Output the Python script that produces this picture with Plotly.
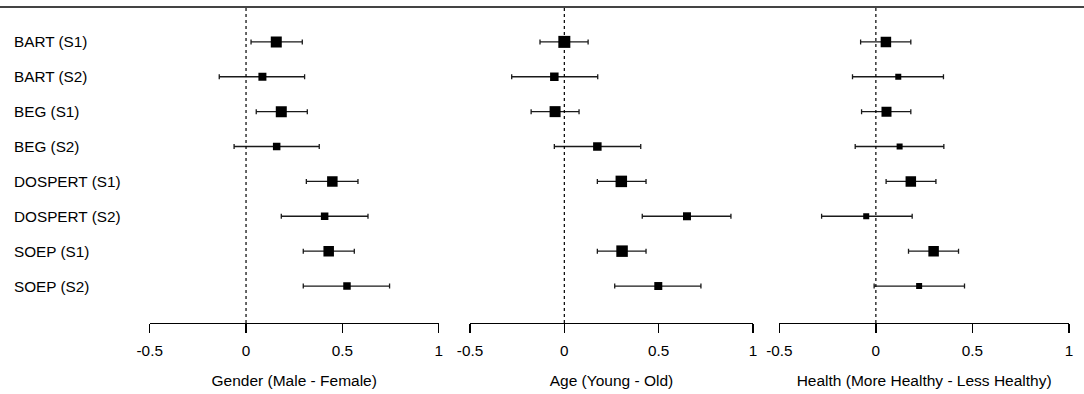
import plotly.graph_objects as go

studies = ["BART (S1)", "BART (S2)", "BEG (S1)", "BEG (S2)",
           "DOSPERT (S1)", "DOSPERT (S2)", "SOEP (S1)", "SOEP (S2)"]

axis_titles = ["Gender (Male - Female)", "Age (Young - Old)",
               "Health (More Healthy - Less Healthy)"]
tick_vals = [-0.5, 0, 0.5, 1]
tick_text = ["-0.5", "0", "0.5", "1"]

gender_est = [0.157, 0.085, 0.183, 0.159, 0.448, 0.408, 0.429, 0.524]
gender_lo = [0.026, -0.139, 0.053, -0.062, 0.313, 0.183, 0.297, 0.297]
gender_hi = [0.292, 0.304, 0.318, 0.380, 0.581, 0.633, 0.562, 0.745]

age_est = [0.000, -0.053, -0.049, 0.175, 0.302, 0.650, 0.306, 0.498]
age_lo = [-0.129, -0.279, -0.176, -0.053, 0.175, 0.413, 0.175, 0.267]
age_hi = [0.126, 0.177, 0.078, 0.405, 0.433, 0.883, 0.433, 0.724]

health_est = [0.052, 0.116, 0.055, 0.123, 0.181, -0.050, 0.299, 0.224]
health_lo = [-0.079, -0.121, -0.074, -0.107, 0.053, -0.281, 0.169, -0.009]
health_hi = [0.181, 0.350, 0.181, 0.352, 0.311, 0.188, 0.428, 0.459]

# marker sizes (style) per panel
sizes = [
    [11, 8, 11, 7.5, 10.5, 7.5, 10.5, 7.5],
    [12, 8.5, 11, 8.5, 11.5, 8, 11.5, 8],
    [10.5, 6, 10, 6, 10.5, 6, 10.5, 6],
]

panels = [(gender_est, gender_lo, gender_hi),
          (age_est, age_lo, age_hi),
          (health_est, health_lo, health_hi)]

W, H = 1084, 394
domains = [(149.7, 438.7), (470.0, 753.0), (779.3, 1069.0)]
FONT = "Liberation Sans, Arial, Helvetica, sans-serif"

fig = go.Figure()
ypos = list(range(len(studies)))
for i, (est, lo, hi) in enumerate(panels):
    xa = "x" if i == 0 else f"x{i+1}"
    fig.add_trace(go.Scatter(
        x=est, y=ypos, mode="markers",
        marker=dict(symbol="square", color="black", size=sizes[i], opacity=1,
                    line=dict(width=0)),
        error_x=dict(type="data", symmetric=False,
                     array=[h - e for h, e in zip(hi, est)],
                     arrayminus=[e - l for e, l in zip(est, lo)],
                     color="#1a1a1a", thickness=1.3, width=2.5),
        xaxis=xa, yaxis="y", showlegend=False, hoverinfo="skip"))

layout = dict(
    template="none",
    width=W, height=H, autosize=False,
    margin=dict(l=0, r=0, t=7, b=71, pad=0, autoexpand=False),
    paper_bgcolor="white", plot_bgcolor="white",
    font=dict(family=FONT, size=15.3, color="black"),
    showlegend=False,
    hovermode=False,
    yaxis=dict(range=[8.06, -1.0], showgrid=False, zeroline=False, automargin=False,
               showticklabels=False, showline=False, ticks="", fixedrange=True),
)
for i in range(3):
    key = "xaxis" if i == 0 else f"xaxis{i+1}"
    d0, d1 = domains[i]
    layout[key] = dict(
        domain=[d0 / W, d1 / W], range=[-0.5, 1], anchor="y", automargin=False,
        tickvals=tick_vals, ticktext=tick_text,
        ticks="outside", ticklen=9, tickwidth=1.3, tickcolor="black",
        ticklabelstandoff=4,
        showline=True, linecolor="black", linewidth=1.3,
        showgrid=False, zeroline=False, fixedrange=True,
        tickfont=dict(size=15.3, color="black"),
        title=dict(text=axis_titles[i], font=dict(size=15.5, color="black"), standoff=17),
    )
fig.update_layout(**layout)

shapes = []
for i in range(3):
    xr = "x" if i == 0 else f"x{i+1}"
    shapes.append(dict(type="line", xref=xr, yref="paper", x0=0, x1=0, y0=0, y1=1,
                       line=dict(color="black", width=1.2, dash="dot")))
shapes.append(dict(type="line", xref="paper", yref="paper", x0=0, x1=1, y0=1, y1=1,
                   line=dict(color="#444444", width=2)))
fig.update_layout(shapes=shapes)

annotations = []
for j, s in enumerate(studies):
    annotations.append(dict(text=s, xref="paper", yref="y", x=12 / W, y=j,
                            xanchor="left", yanchor="middle", showarrow=False,
                            font=dict(size=15.3, color="black")))
fig.update_layout(annotations=annotations)

fig.write_html("out.html", config={"displayModeBar": False, "staticPlot": True},
               post_script="document.body.style.margin='0';document.body.style.padding='0';")
